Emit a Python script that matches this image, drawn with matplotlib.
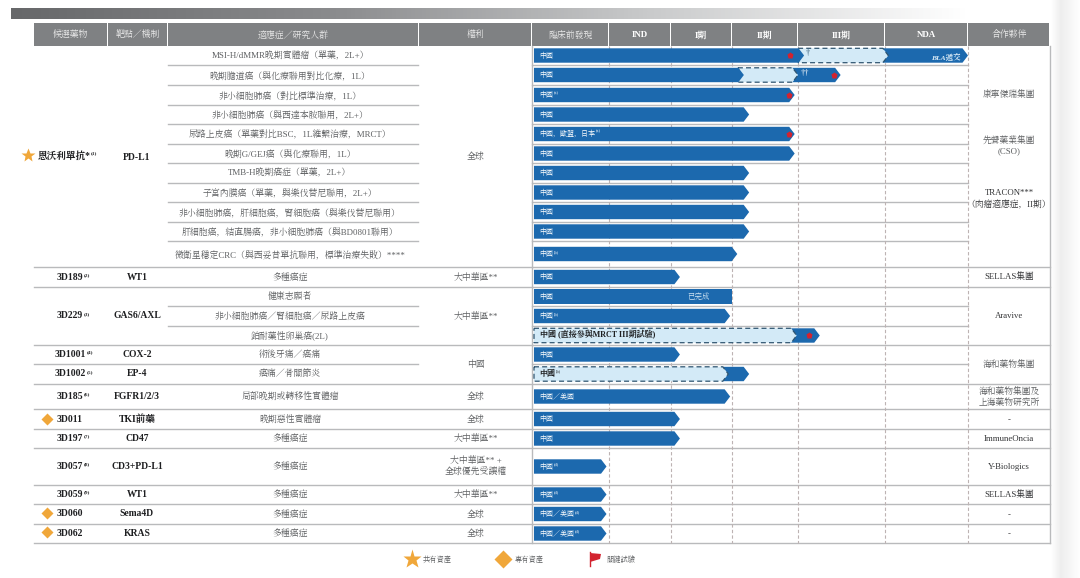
import numpy as np
import matplotlib
matplotlib.use("Agg")
import matplotlib.pyplot as plt
from matplotlib.patches import Polygon, Rectangle
from matplotlib.colors import LinearSegmentedColormap

plt.rcParams["font.family"] = ["Liberation Serif", "Noto Serif CJK JP", "Noto Sans CJK JP"]

# ---------- data ----------
headers = ["候選藥物", "靶點／機制", "適應症／研究人群", "權利", "臨床前發現", "IND", "I期", "II期", "III期", "NDA", "合作夥伴"]
indications = ["MSI-H/dMMR晚期實體瘤（單藥，2L+）", "晚期膽道癌（與化療聯用對比化療，1L）", "非小細胞肺癌（對比標準治療，1L）",
               "非小細胞肺癌（與西達本胺聯用，2L+）", "尿路上皮癌（單藥對比BSC，1L維繫治療，MRCT）", "晚期G/GEJ癌（與化療聯用，1L）",
               "TMB-H晚期癌症（單藥，2L+）", "子宮內膜癌（單藥，與樂伐替尼聯用，2L+）", "非小細胞肺癌，肝細胞癌，腎細胞癌（與樂伐替尼聯用）",
               "肝細胞癌，結直腸癌，非小細胞肺癌（與BD0801聯用）", "微衛星穩定CRC（與西妥昔單抗聯用，標準治療失敗）****", "多種癌症",
               "健康志願者", "非小細胞肺癌／腎細胞癌／尿路上皮癌", "鉑耐藥性卵巢癌(2L)", "術後牙痛／癌痛", "癌痛／骨關節炎",
               "局部晚期或轉移性實體瘤", "晚期惡性實體瘤", "多種癌症", "多種癌症", "多種癌症", "多種癌症", "多種癌症"]
bar_labels = ["中國", "中國", "中國", "中國", "中國，歐盟，日本", "中國", "中國", "中國", "中國", "中國", "中國", "中國",
              "中國", "中國", "中國 (直接參與MRCT III期試驗)", "中國", "中國", "中國／美國", "中國", "中國", "中國", "中國",
              "中國／美國", "中國／美國"]
bar_notes = ["", "", "(a)", "", "(a)", "", "", "", "", "", "(b)", "", "", "(b)", "", "", "(b)", "", "", "",
             "(d)", "(d)", "(d)", "(d)"]
# stage reached per segment: 0 = start of discovery, 1 = IND, 2 = I, 3 = II, 4 = III, 5 = NDA, 6 = end
bar_stage_ends = [[4.07, 5.04, 6.01], [3.18, 4.0, 4.49], [3.95], [3.26], [3.95], [3.95], [3.26], [3.26], [3.26], [3.26],
                  [3.08], [2.16], [3.0], [2.97], [3.98, 4.25], [2.16], [2.94, 3.26], [2.97], [2.16], [2.16],
                  [0.98], [0.98], [0.98], [0.98]]
bar_kinds = [["s", "d", "s"], ["s", "d", "s"], ["s"], ["s"], ["s"], ["s"], ["s"], ["s"], ["s"], ["s"],
             ["s"], ["s"], ["f"], ["s"], ["d", "s"], ["s"], ["d", "s"], ["s"], ["s"], ["s"],
             ["s"], ["s"], ["s"], ["s"]]
flag_rows = [0, 1, 2, 4, 14]
flag_stages = [3.88, 4.41, 3.86, 3.86, 4.13]

candidates = ["恩沃利單抗*", "3D189", "3D229", "3D1001", "3D1002", "3D185", "3D011", "3D197", "3D057", "3D059", "3D060", "3D062"]
candidate_notes = ["(1)", "(2)", "(3)", "(4)", "(5)", "(6)", "", "(7)", "(8)", "(9)", "", ""]
targets = ["PD-L1", "WT1", "GAS6/AXL", "COX-2", "EP-4", "FGFR1/2/3", "TKI前藥", "CD47", "CD3+PD-L1", "WT1", "Sema4D", "KRAS"]
rights = ["全球", "大中華區**", "大中華區**", "中國", "全球", "全球", "大中華區**", "大中華區** +\n全球優先受讓權", "大中華區**", "全球", "全球"]
partners = ["康寧傑瑞集團", "先聲藥業集團\n(CSO)", "TRACON***\n（肉瘤適應症，II期）", "SELLAS集團", "Aravive", "海和藥物集團",
            "海和藥物集團及\n上海藥物研究所", "-", "ImmuneOncia", "Y-Biologics", "SELLAS集團", "-", "-"]
legend_labels = ["共有資產", "專有資產", "關鍵試驗"]

# ---------- layout (figure pixels) ----------
W, H = 1080, 578
fig = plt.figure(figsize=(W / 100, H / 100), dpi=100, facecolor="white")
ax = fig.add_axes([0, 0, 1, 1])
ax.set_xlim(0, W)
ax.set_ylim(H, 0)
ax.axis("off")

stage_px = [534, 608, 670, 732, 798, 885, 968]
def sx(v):
    return float(np.interp(v, range(7), stage_px))

row_edges = [46, 65, 85, 105, 124, 144, 163, 183, 202, 222, 241, 267, 287, 306, 326, 345, 364, 384, 409, 429, 448, 485, 504, 524, 543]
row_mid = [(a + b) / 2 for a, b in zip(row_edges[:-1], row_edges[1:])]
full_lines = [267, 287, 345, 384, 409, 429, 448, 485, 504, 524, 543]
LINE = "#b9babc"
GRAY = "#5e6062"
DARK = "#1e1f21"
BLUE = "#1c69ae"
PALE = "#d3eaf7"
ORANGE = "#f0a73a"
RED = "#d3232f"

# top gradient band and right-hand page shadow
cm = LinearSegmentedColormap.from_list("band", ["#67686a", "#8a8b8d", "#c9cacb", "#ffffff"])
ax.imshow(np.linspace(0, 1, 512)[None, :], extent=(11, 968, 18.7, 8), aspect="auto", cmap=cm, zorder=1)
cm2 = LinearSegmentedColormap.from_list("sh", ["#ffffff", "#eeeeee", "#f6f6f6", "#ffffff"])
ax.imshow(np.linspace(0, 1, 64)[None, :], extent=(1051, 1080, H, 0), aspect="auto", cmap=cm2, zorder=1)
ax.set_xlim(0, W)
ax.set_ylim(H, 0)

# header
cols = [34, 107.5, 168, 418.5, 532, 608.5, 670.5, 732, 798, 885, 968, 1050]
for i, h in enumerate(headers):
    ax.add_patch(Rectangle((cols[i], 23), cols[i + 1] - cols[i] - 1, 23, fc="#7f8183", ec="none", zorder=2))
    bold = h in ("IND", "I期", "II期", "III期", "NDA")
    ax.text((cols[i] + cols[i + 1]) / 2, 35, h, ha="center", va="center", color="white" if bold else "#e8e8e8",
            fontsize=6.4, fontweight="bold" if bold else "normal", zorder=3)

# grid
for y in row_edges[1:]:
    if y in full_lines:
        ax.plot([34, 1050], [y, y], color=LINE, lw=1.0, zorder=2)
    elif y == 364:
        ax.plot([34, 418], [y, y], color=LINE, lw=1.0, zorder=2)
        ax.plot([532, 968], [y, y], color=LINE, lw=1.0, zorder=2)
    else:
        ax.plot([168, 418], [y, y], color=LINE, lw=1.0, zorder=2)
        ax.plot([532, 968], [y, y], color=LINE, lw=1.0, zorder=2)
ax.plot([532, 532], [46, 543], color=LINE, lw=1.0, zorder=2)
ax.plot([1050, 1050], [46, 543], color=LINE, lw=1.0, zorder=2)
for x in cols[5:11]:
    ax.plot([x, x], [46, 543], color="#bdb3b3", lw=0.8, ls=(0, (3, 2)), zorder=2)

# indications
for y, t in zip(row_mid, indications):
    ax.text(290, y, t, ha="center", va="center", color=GRAY, fontsize=6.4, zorder=3)

# bars
def seg_poly(x0, x1, c, notch):
    t, b, tip = c - 7.2, c + 7.2, 5.5
    if notch:
        return [(x0, t), (x1 - tip, t), (x1, c), (x1 - tip, b), (x0, b), (x0 + 3, c)]
    return [(x0, t), (x1 - tip, t), (x1, c), (x1 - tip, b), (x0, b)]

for r, (ends, kinds) in enumerate(zip(bar_stage_ends, bar_kinds)):
    c = row_mid[r]
    xs = [534] + [sx(e) for e in ends]
    for k in range(len(ends) - 1, -1, -1):
        x0 = xs[k] - (6 if k else 0)
        x1 = xs[k + 1]
        kind = kinds[k]
        if kind == "f":
            ax.add_patch(Rectangle((x0, c - 7.2), x1 - x0, 14.4, fc=BLUE, ec="none", zorder=4))
        elif kind == "s":
            ax.add_patch(Polygon(seg_poly(x0, x1, c, k > 0), closed=True, fc=BLUE, ec="none", zorder=4 + (len(ends) - k) * 0.1))
        else:
            ax.add_patch(Polygon(seg_poly(x0, x1, c, k > 0), closed=True, fc=PALE, ec="#2f5570", lw=0.9,
                                 ls=(0, (4, 2.5)), zorder=4 + (len(ends) - k) * 0.1))
    dark = kinds[0] == "d"
    lab = ax.text(539.5, c - 0.5, bar_labels[r], ha="left", va="center", color=DARK if dark else "white",
                  fontsize=5.8 if dark else 5.0, fontweight="bold" if dark else "normal", zorder=6)
    if bar_notes[r]:
        ax.annotate(bar_notes[r], xy=(1, 0.75), xycoords=lab, xytext=(0.5, 0), textcoords="offset points",
                    ha="left", va="center", fontsize=3.2, color=DARK if dark else "white", zorder=6)

for r, s in zip(flag_rows, flag_stages):
    ax.plot(sx(s), row_mid[r] - 0.5, marker="p", ms=4.6, color=RED, mec="none", zorder=6)
ax.text(946, row_mid[0] + 1, "BLA遞交", ha="center", va="center", color="#dcecf7", fontsize=5.4, style="italic", fontweight="bold", zorder=6)
ax.text(699, row_mid[12], "已完成", ha="center", va="center", color="#cfe3f2", fontsize=5.4, style="italic", zorder=6)
ax.text(808, row_mid[0] - 2.5, "†", ha="center", va="center", color="#2f5570", fontsize=6, zorder=6)
ax.text(805, row_mid[1] - 1.5, "††", ha="center", va="center", color="white", fontsize=6, zorder=6)

# candidate / target / rights / partner columns
group_rows = [(0, 10), (11, 11), (12, 14), (15, 15), (16, 16), (17, 17), (18, 18), (19, 19), (20, 20), (21, 21), (22, 22), (23, 23)]
for (a, b), cand, note, tgt in zip(group_rows, candidates, candidate_notes, targets):
    y = (row_edges[a] + row_edges[b + 1]) / 2
    cx = 64 if a == 0 else 70
    lab = ax.text(cx, y - (1 if a == 0 else 0), cand, ha="center", va="center", color=DARK, fontsize=6.9, fontweight="bold", zorder=3)
    if note:
        ax.annotate(note, xy=(1, 0.75), xycoords=lab, xytext=(0.5, 0), textcoords="offset points",
                    ha="left", va="center", fontsize=3.8, color=DARK, fontweight="bold", zorder=3)
    ax.text(137, y + (1 if a == 0 else 0), tgt, ha="center", va="center", color=DARK, fontsize=6.9, fontweight="bold", zorder=3)

rights_rows = [(0, 11), (11, 12), (12, 15), (15, 17), (17, 18), (18, 19), (19, 20), (20, 21), (21, 22), (22, 23), (23, 24)]
for (a, b), t in zip(rights_rows, rights):
    ax.text(476, (row_edges[a] + row_edges[b]) / 2, t, ha="center", va="center", color=GRAY, fontsize=6.4,
            linespacing=1.3, zorder=3)

partner_ys = [95, 146, 199, 277, 316, 365, 397, 420, 439, 467, 495, 515, 534]
for y, t in zip(partner_ys, partners):
    latin = t[0].isascii()
    ax.text(1009, y, t, ha="center", va="center", color="#333436" if latin else GRAY, fontsize=6.3,
            linespacing=1.3, zorder=3)

# markers and legend
ax.plot(28, 155, marker="*", ms=10, color=ORANGE, mec="none", zorder=3)
for y in [419, 513, 532]:
    ax.plot(46.5, y, marker="D", ms=6, color=ORANGE, mec="none", zorder=3)
ax.plot(411.5, 559, marker="*", ms=14, color=ORANGE, mec="none", zorder=3)
ax.plot(503, 559, marker="D", ms=9, color=ORANGE, mec="none", zorder=3)
ax.plot([589.5, 589.5], [552, 566], color=RED, lw=1.0, zorder=3)
ax.add_patch(Polygon([(590, 553), (601, 554), (600, 559), (590, 562)], closed=True, fc=RED, ec="none", zorder=3))
for x, t in zip([423, 515, 606], legend_labels):
    ax.text(x, 559.5, t, ha="left", va="center", color=GRAY, fontsize=5.2, zorder=3)

fig.savefig("out.png", dpi=100, facecolor="white")
